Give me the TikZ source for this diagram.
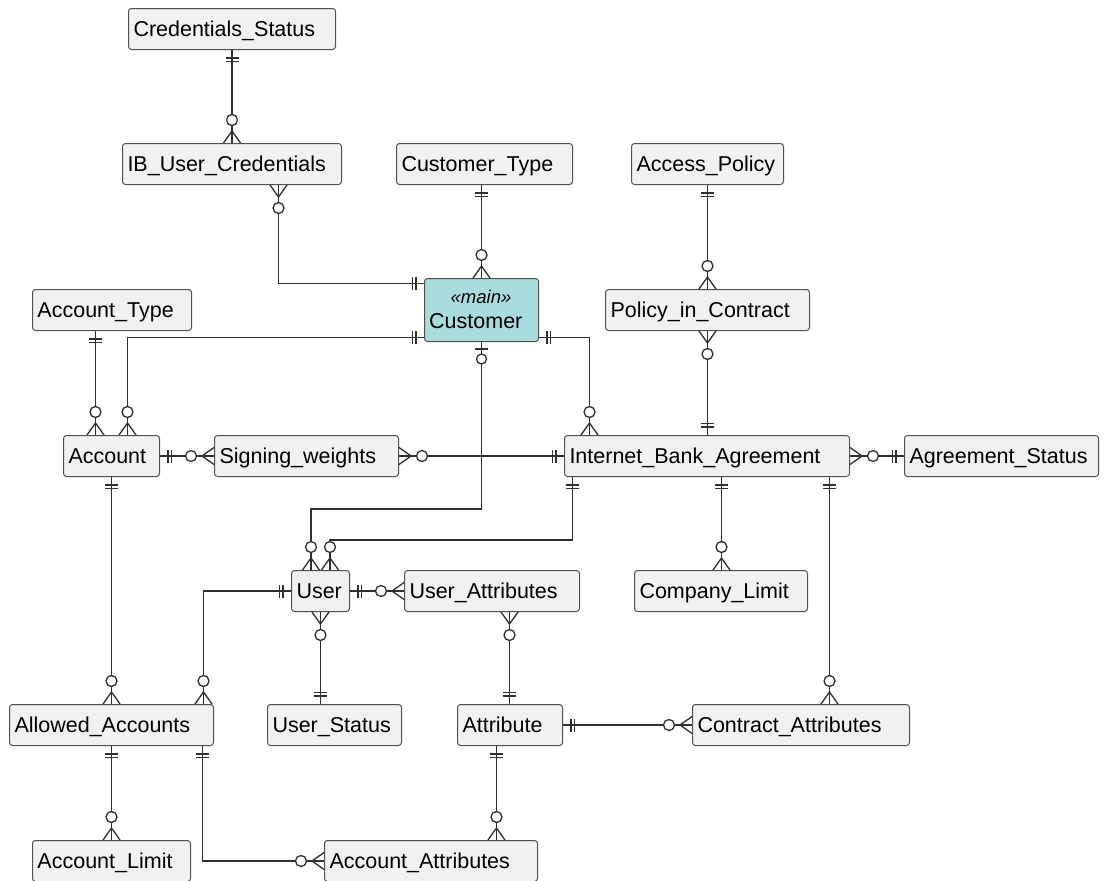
\documentclass[tikz,border=0pt]{standalone}
\usepackage{fontspec}
\setmainfont{Liberation Sans}
\usetikzlibrary{calc}

\definecolor{boxfill}{HTML}{F1F1F1}
\definecolor{boxline}{HTML}{505050}
\definecolor{mainfill}{HTML}{A8DCDD}
\definecolor{relline}{HTML}{2E2E2E}

\tikzset{
  erline/.style={draw=relline, line width=1.3pt},
  entity/.style={draw=boxline, line width=1pt, fill=boxfill, rounded corners=3pt,
    anchor=north west, inner xsep=5pt, inner ysep=0pt, minimum height=41pt,
    align=left, text height=17pt, text depth=1.5pt,
    font=\fontsize{21.5pt}{25pt}\selectfont},
  % exactly one: two bars across the line
  pics/one/.style={code={\draw[erline] (8,-6.5)--(8,6.5) (11.5,-6.5)--(11.5,6.5);}},
  % zero or many: crow's foot with a ring
  pics/many/.style={code={\draw[erline] (0,-8.5)--(12,0)--(0,8.5);
    \draw[erline,fill=white] (23,0) circle[radius=5.5pt];}},
  % zero or one: bar with a ring
  pics/zeroone/.style={code={\draw[erline] (7,-6.5)--(7,6.5);
    \draw[erline,fill=white] (17,0) circle[radius=5pt];}},
}

% \entity{name}{left}{top}{right}{label}
\newcommand{\entity}[5]{%
  \pgfmathsetmacro{\entw}{#4-#2-10}%
  \node[entity,text width=\entw pt] (#1) at (#2,#3) {#5};%
}

\begin{document}
\begin{tikzpicture}[x=1pt,y=-1pt]
\useasboundingbox (0,0) rectangle (1104,881);

% ---------------- entities ----------------
\entity{CS}{128}{8}{335}{Credentials\_Status}
\entity{IBUC}{122}{143}{341}{IB\_User\_Credentials}
\entity{CT}{396}{143}{572}{Customer\_Type}
\entity{AP}{631}{143}{783}{Access\_Policy}
\node[entity,fill=mainfill,minimum height=63pt,text width=104pt] (Cust) at (424,278) {};
\node[anchor=base,font=\fontsize{18.5pt}{20pt}\selectfont\itshape] (CustStereo) at (481,303) {«main»};
\node[anchor=base west,inner sep=0pt,font=\fontsize{21.5pt}{25pt}\selectfont] (CustName) at (429,328) {Customer};
\entity{AT}{32}{289}{191}{Account\_Type}
\entity{PIC}{605}{289}{809}{Policy\_in\_Contract}
\entity{Acc}{63}{435}{159}{Account}
\entity{SW}{214}{435}{398}{Signing\_weights}
\entity{IBA}{564}{435}{849}{Internet\_Bank\_Agreement}
\entity{AS}{904}{435}{1098}{Agreement\_Status}
\entity{User}{291}{570}{349}{User}
\entity{UA}{404}{570}{579}{User\_Attributes}
\entity{CL}{634}{570}{807}{Company\_Limit}
\entity{AA}{9}{704}{213}{Allowed\_Accounts}
\entity{US}{267}{704}{401}{User\_Status}
\entity{Attr}{457}{704}{562}{Attribute}
\entity{CA}{692}{704}{909}{Contract\_Attributes}
\entity{AL}{32}{840}{190}{Account\_Limit}
\entity{AccA}{324}{840}{537}{Account\_Attributes}

% ---------------- connection points ----------------
\coordinate (r1a) at (CS.south);            \coordinate (r1b) at (CS.south |- IBUC.north);
\coordinate (r2a) at ([xshift=46.5pt]IBUC.south); \coordinate (r2b) at ([yshift=26.5pt]Cust.west);
\coordinate (r3b) at (Cust.north);          \coordinate (r3a) at (Cust.north |- CT.south);
\coordinate (r4a) at (AP.south);            \coordinate (r4b) at (AP.south |- PIC.north);
\coordinate (r5a) at ([xshift=-16.5pt]AT.south); \coordinate (r5b) at (r5a |- Acc.north);
\coordinate (r6a) at ([yshift=-27.5pt]Cust.west); \coordinate (r6b) at ([xshift=16pt]Acc.north);
\coordinate (r7a) at ([yshift=-27.5pt]Cust.east); \coordinate (r7b) at ([xshift=-117.5pt]IBA.north);
\coordinate (r8a) at (PIC.south);           \coordinate (r8b) at (PIC.south |- IBA.north);
\coordinate (r9a) at (Acc.east);            \coordinate (r9b) at (SW.west);
\coordinate (r10a) at (SW.east);            \coordinate (r10b) at (IBA.west);
\coordinate (r11a) at (IBA.east);           \coordinate (r11b) at (AS.west);
\coordinate (r12a) at (Cust.south);         \coordinate (r12b) at ([xshift=-9.5pt]User.north);
\coordinate (r13a) at ([xshift=-134.5pt]IBA.south); \coordinate (r13b) at ([xshift=9.5pt]User.north);
\coordinate (r14a) at ([xshift=14.5pt]IBA.south); \coordinate (r14b) at (r14a |- CL.north);
\coordinate (r15a) at ([xshift=122.5pt]IBA.south); \coordinate (r15b) at (r15a |- CA.north);
\coordinate (r16a) at (Acc.south);          \coordinate (r16b) at (r16a |- AA.north);
\coordinate (r17a) at (User.west);          \coordinate (r17b) at ([xshift=92pt]AA.north);
\coordinate (r18a) at (User.east);          \coordinate (r18b) at (UA.west);
\coordinate (r19a) at (User.south);         \coordinate (r19b) at (r19a |- US.north);
\coordinate (r20a) at ([xshift=17.5pt]UA.south); \coordinate (r20b) at (r20a |- Attr.north);
\coordinate (r21a) at (Attr.east);          \coordinate (r21b) at (r21a -| CA.west);
\coordinate (r22a) at (AA.south);           \coordinate (r22b) at (r22a |- AL.north);
\coordinate (r23a) at ([xshift=91pt]AA.south); \coordinate (r23b) at (AccA.west);
\coordinate (r24a) at ([xshift=-13.5pt]Attr.south); \coordinate (r24b) at (r24a |- AccA.north);

% ---------------- relationship lines ----------------
\draw[erline] (r1a) -- (r1b);
\draw[erline] (r2a) |- (r2b);
\draw[erline] (r3a) -- (r3b);
\draw[erline] (r4a) -- (r4b);
\draw[erline] (r5a) -- (r5b);
\draw[erline] (r6a) -| (r6b);
\draw[erline] (r7a) -| (r7b);
\draw[erline] (r8a) -- (r8b);
\draw[erline] (r9a) -- (r9b);
\draw[erline] (r10a) -- (r10b);
\draw[erline] (r11a) -- (r11b);
\draw[erline] (r12a) -- ++(0,167) -| (r12b);
\draw[erline] (r13a) -- ++(0,63) -| (r13b);
\draw[erline] (r14a) -- (r14b);
\draw[erline] (r15a) -- (r15b);
\draw[erline] (r16a) -- (r16b);
\draw[erline] (r17a) -| (r17b);
\draw[erline] (r18a) -- (r18b);
\draw[erline] (r19a) -- (r19b);
\draw[erline] (r20a) -- (r20b);
\draw[erline] (r21a) -- (r21b);
\draw[erline] (r22a) -- (r22b);
\draw[erline] (r23a) |- (r23b);
\draw[erline] (r24a) -- (r24b);

% ---------------- cardinality marks ----------------
\pic[rotate=-90] at (r1a) {one};     \pic[rotate=90] at (r1b) {many};
\pic[rotate=-90] at (r2a) {many};    \pic[rotate=180] at (r2b) {one};
\pic[rotate=-90] at (r3a) {one};     \pic[rotate=90] at (r3b) {many};
\pic[rotate=-90] at (r4a) {one};     \pic[rotate=90] at (r4b) {many};
\pic[rotate=-90] at (r5a) {one};     \pic[rotate=90] at (r5b) {many};
\pic[rotate=180] at (r6a) {one};     \pic[rotate=90] at (r6b) {many};
\pic[rotate=0] at (r7a) {one};       \pic[rotate=90] at (r7b) {many};
\pic[rotate=-90] at (r8a) {many};    \pic[rotate=90] at (r8b) {one};
\pic[rotate=0] at (r9a) {one};       \pic[rotate=180] at (r9b) {many};
\pic[rotate=0] at (r10a) {many};     \pic[rotate=180] at (r10b) {one};
\pic[rotate=0] at (r11a) {many};     \pic[rotate=180] at (r11b) {one};
\pic[rotate=-90] at (r12a) {zeroone}; \pic[rotate=90] at (r12b) {many};
\pic[rotate=-90] at (r13a) {one};    \pic[rotate=90] at (r13b) {many};
\pic[rotate=-90] at (r14a) {one};    \pic[rotate=90] at (r14b) {many};
\pic[rotate=-90] at (r15a) {one};    \pic[rotate=90] at (r15b) {many};
\pic[rotate=-90] at (r16a) {one};    \pic[rotate=90] at (r16b) {many};
\pic[rotate=180] at (r17a) {one};    \pic[rotate=90] at (r17b) {many};
\pic[rotate=0] at (r18a) {one};      \pic[rotate=180] at (r18b) {many};
\pic[rotate=-90] at (r19a) {many};   \pic[rotate=90] at (r19b) {one};
\pic[rotate=-90] at (r20a) {many};   \pic[rotate=90] at (r20b) {one};
\pic[rotate=0] at (r21a) {one};      \pic[rotate=180] at (r21b) {many};
\pic[rotate=-90] at (r22a) {one};    \pic[rotate=90] at (r22b) {many};
\pic[rotate=-90] at (r23a) {one};    \pic[rotate=180] at (r23b) {many};
\pic[rotate=-90] at (r24a) {one};    \pic[rotate=90] at (r24b) {many};

\end{tikzpicture}
\end{document}
